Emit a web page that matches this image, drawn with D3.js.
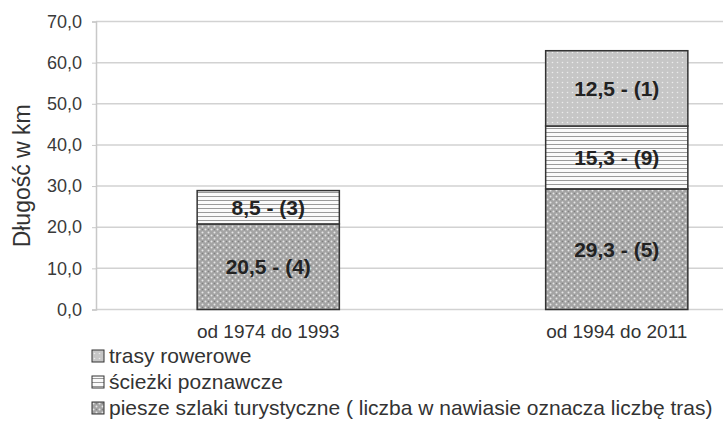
<!DOCTYPE html>
<html>
<head>
<meta charset="utf-8">
<script src="https://cdn.jsdelivr.net/npm/d3@7"></script>
<style>
  body { margin: 0; background: #fff; }
  svg { font-family: "Liberation Sans", Arial, sans-serif; }
  .tick text { fill: #3a3a3a; font-size: 18px; }
</style>
</head>
<body>
<script>
// dane
const categories = ["od 1974 do 1993", "od 1994 do 2011"];
const seriesNames = ["trasy rowerowe", "ścieżki poznawcze", "piesze szlaki turystyczne ( liczba w nawiasie oznacza liczbę tras)"];
const piesze = [20.8, 29.3];
const sciezki = [8.1, 15.3];
const trasy = [0, 18.3];
const pieszeLabels = ["20,5 - (4)", "29,3 - (5)"];
const sciezkiLabels = ["8,5 - (3)", "15,3 - (9)"];
const trasyLabels = ["", "12,5 - (1)"];
const yTicks = [0, 10, 20, 30, 40, 50, 60, 70];

const width = 723, height = 428;

const svg = d3.select("body").append("svg")
  .attr("width", width)
  .attr("height", height);

// wzory wypełnienia
const defs = svg.append("defs");

let pPiesze = defs.append("pattern")
  .attr("id", "p-piesze").attr("patternUnits", "userSpaceOnUse")
  .attr("width", 6).attr("height", 6);
pPiesze.append("rect").attr("width", 6).attr("height", 6).attr("fill", "#a4a4a4");
pPiesze.append("circle").attr("cx", 1.5).attr("cy", 1.5).attr("r", 1).attr("fill", "#e6e6e6");
pPiesze.append("circle").attr("cx", 4.5).attr("cy", 4.5).attr("r", 1).attr("fill", "#e6e6e6");
pPiesze.append("circle").attr("cx", 4.5).attr("cy", 1.5).attr("r", 0.8).attr("fill", "#808080");

let pSciezki = defs.append("pattern")
  .attr("id", "p-sciezki").attr("patternUnits", "userSpaceOnUse")
  .attr("width", 4).attr("height", 4);
pSciezki.append("rect").attr("width", 4).attr("height", 4).attr("fill", "#fafafa");
pSciezki.append("rect").attr("y", 0).attr("width", 4).attr("height", 1).attr("fill", "#9a9a9a");

let pTrasy = defs.append("pattern")
  .attr("id", "p-trasy").attr("patternUnits", "userSpaceOnUse")
  .attr("width", 5).attr("height", 5);
pTrasy.append("rect").attr("width", 5).attr("height", 5).attr("fill", "#c6c6c6");
pTrasy.append("circle").attr("cx", 2.5).attr("cy", 2.5).attr("r", 0.8).attr("fill", "#ececec");

// skale
let x = d3.scaleBand()
  .domain(categories)
  .range([94, 791])
  .paddingInner(0.592)
  .paddingOuter(0.296);

let y = d3.scaleLinear()
  .domain([0, 70])
  .range([309.5, 21.5]);

// siatka
svg.append("g")
  .selectAll("line")
  .data(yTicks)
  .join("line")
  .attr("x1", 96).attr("x2", width)
  .attr("y1", d => y(d)).attr("y2", d => y(d))
  .attr("stroke", "#d2d2d2")
  .attr("stroke-width", 1.5);

// oś Y
let yAxis = svg.append("g")
  .attr("transform", "translate(96, 0)")
  .call(d3.axisLeft(y)
    .tickValues(yTicks)
    .tickSize(4)
    .tickPadding(10)
    .tickFormat(d => d3.format(".1f")(d).replace(".", ",")));
yAxis.select(".domain").attr("stroke", "#c8c8c8").attr("stroke-width", 1.5);
yAxis.selectAll(".tick line").attr("stroke", "#c8c8c8");

svg.append("text")
  .attr("transform", "translate(30, " + y(32.5) + ") rotate(-90)")
  .attr("text-anchor", "middle")
  .attr("fill", "#333")
  .style("font-size", "23px")
  .text("Długość w km");

// słupki
const layers = [
  { values: piesze, labels: pieszeLabels, fill: "url(#p-piesze)" },
  { values: sciezki, labels: sciezkiLabels, fill: "url(#p-sciezki)" },
  { values: trasy, labels: trasyLabels, fill: "url(#p-trasy)" },
];

let base = categories.map(() => 0);
layers.forEach(layer => {
  categories.forEach((c, i) => {
    let v = layer.values[i];
    if (!v) return;
    let y0 = base[i], y1 = base[i] + v;
    svg.append("rect")
      .attr("x", x(c))
      .attr("y", y(y1))
      .attr("width", x.bandwidth())
      .attr("height", y(y0) - y(y1))
      .attr("fill", layer.fill)
      .attr("stroke", "#333")
      .attr("stroke-width", 1.5);
    svg.append("text")
      .attr("x", x(c) + x.bandwidth() / 2)
      .attr("y", (y(y0) + y(y1)) / 2)
      .attr("dy", "0.36em")
      .attr("text-anchor", "middle")
      .attr("fill", "#222")
      .style("font-size", "21px")
      .style("font-weight", "bold")
      .text(layer.labels[i]);
    base[i] = y1;
  });
});

// etykiety kategorii
svg.append("g")
  .selectAll("text")
  .data(categories)
  .join("text")
  .attr("x", d => x(d) + x.bandwidth() / 2)
  .attr("y", 331)
  .attr("dy", "0.35em")
  .attr("text-anchor", "middle")
  .attr("fill", "#333")
  .style("font-size", "19px")
  .text(d => d);

// legenda
const legendFills = ["url(#p-trasy)", "url(#p-sciezki)", "url(#p-piesze)"];
let legend = svg.append("g")
  .selectAll("g")
  .data(seriesNames)
  .join("g")
  .attr("transform", (d, i) => "translate(92, " + (356 + i * 26) + ")");
legend.append("rect")
  .attr("x", 0).attr("y", -6)
  .attr("width", 12).attr("height", 12)
  .attr("fill", (d, i) => legendFills[i])
  .attr("stroke", "#333")
  .attr("stroke-width", 1);
legend.append("text")
  .attr("x", 17)
  .attr("dy", "0.35em")
  .attr("fill", "#333")
  .style("font-size", "21px")
  .text(d => d);
</script>
</body>
</html>
